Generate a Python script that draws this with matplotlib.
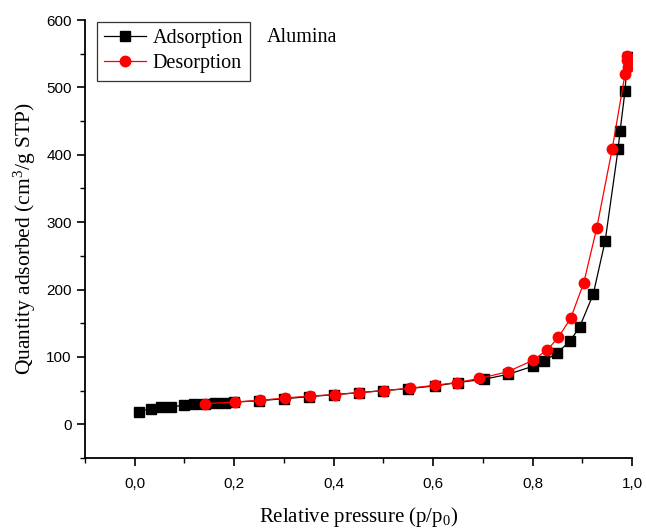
import matplotlib
matplotlib.use("Agg")
import matplotlib.pyplot as plt
from matplotlib.ticker import MultipleLocator, FuncFormatter

plt.rcParams['mathtext.default'] = 'regular'

ads_p = [0.008, 0.032, 0.052, 0.072, 0.099, 0.119, 0.141, 0.161, 0.181, 0.2,
         0.25, 0.3, 0.35, 0.4, 0.45, 0.5, 0.55, 0.604, 0.65, 0.703, 0.75, 0.80,
         0.823, 0.850, 0.875, 0.895, 0.922, 0.946, 0.972, 0.976, 0.986, 0.991]
ads_q = [19, 23, 25, 26, 28, 29.5, 30.5, 31.5, 32, 33,
         35, 38, 41, 44, 47, 50, 53, 57, 62, 67, 74, 86,
         93.5, 106.5, 123, 145, 193, 272, 408, 435, 495, 545]

des_p = [0.141, 0.202, 0.252, 0.302, 0.352, 0.402, 0.452, 0.502, 0.553, 0.604,
         0.648, 0.693, 0.75, 0.801, 0.830, 0.852, 0.877, 0.903, 0.929, 0.960,
         0.986, 0.991, 0.989, 0.990]
des_q = [30.7, 33, 35.6, 39, 42, 44, 47, 50, 53.5, 58,
         62, 68, 78, 95, 111, 129, 158, 210, 291, 408,
         520, 530, 540, 546]

fig = plt.figure(figsize=(6.46, 5.30), dpi=100)
ax = fig.add_axes([85/646, 1-458/530, (632-85)/646, (458-20)/530])

ax.plot(ads_p, ads_q, color='black', lw=0.9, marker='s', ms=6.5,
        mec='black', mfc='black', label='Adsorption', zorder=3)
ax.plot(des_p, des_q, color='red', lw=0.9, marker='o', ms=7.5,
        mec='red', mfc='red', label='Desorption', zorder=4)

ax.set_xlim(-0.1, 1.0)
ax.set_ylim(-50, 600)
ax.spines['top'].set_visible(False)
ax.spines['right'].set_visible(False)
for s in ('left', 'bottom'):
    ax.spines[s].set_linewidth(1.3)

ax.xaxis.set_major_locator(MultipleLocator(0.2))
ax.xaxis.set_minor_locator(MultipleLocator(0.1))
ax.yaxis.set_major_locator(MultipleLocator(100))
ax.yaxis.set_minor_locator(MultipleLocator(50))
ax.xaxis.set_major_formatter(FuncFormatter(lambda v, p: f"{v:.1f}".replace('.', ',')))
ax.tick_params(which='major', direction='out', length=6, width=1.2,
               labelsize=11)
ax.tick_params(axis='x', which='major', pad=8)
ax.tick_params(axis='y', which='major', pad=3.5)
ax.tick_params(which='minor', direction='out', length=3.5, width=1.0)
for lab in ax.get_xticklabels() + ax.get_yticklabels():
    lab.set_fontfamily('Liberation Sans')

ax.set_xlabel('Relative pressure (p/p$_0$)', fontfamily='Liberation Serif',
              fontsize=15, labelpad=10)
ax.set_ylabel('Quantity adsorbed (cm$^3$/g STP)', fontfamily='Liberation Serif',
              fontsize=15.5, labelpad=6)

leg = ax.legend(loc='upper left', bbox_to_anchor=(0.022, 0.995),
                prop={'family': 'Liberation Serif', 'size': 14.5},
                frameon=True, fancybox=False, edgecolor='black',
                handlelength=2.1, handletextpad=0.3, borderpad=0.35,
                labelspacing=0.3, borderaxespad=0.0)
leg.get_frame().set_linewidth(0.9)

ax.text(0.333, 0.96, 'Alumina', transform=ax.transAxes,
        fontfamily='Liberation Serif', fontsize=14.5, va='center', ha='left')

fig.savefig('out.png', dpi=100)
